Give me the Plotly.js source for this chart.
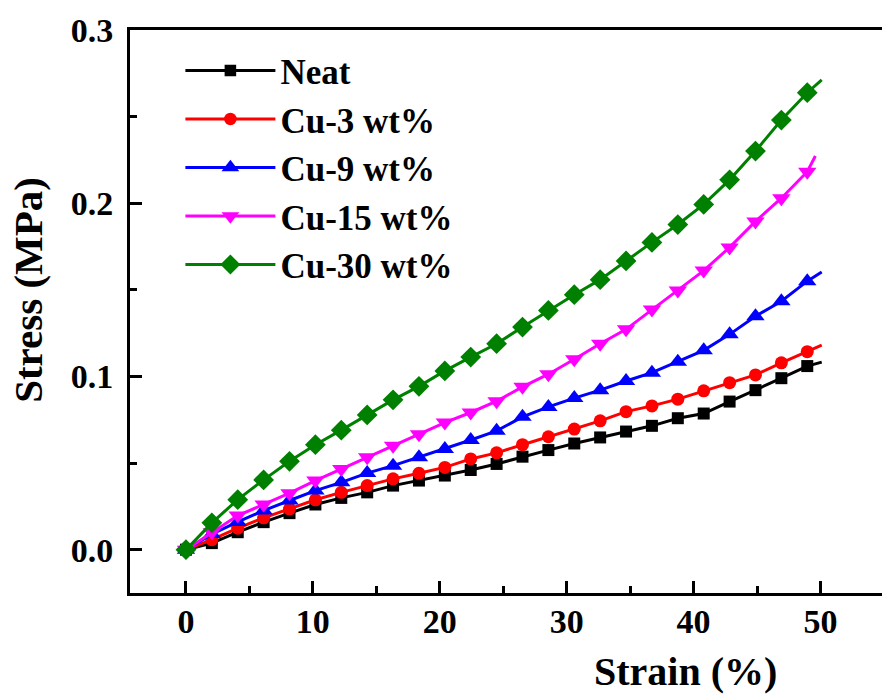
<!DOCTYPE html>
<html>
<head>
<meta charset="utf-8">
<script src="https://cdn.plot.ly/plotly-3.0.1.min.js"></script>
<style>
html,body{margin:0;padding:0;background:#fff;overflow:hidden;}
#chart{width:882px;height:695px;}
</style>
</head>
<body>
<div id="chart"></div>
<script>
// Marker strain positions (%)
const strain = [0, 2.04, 4.08, 6.12, 8.16, 10.2, 12.24, 14.28, 16.32, 18.36, 20.4, 22.44, 24.48,
  26.52, 28.56, 30.6, 32.64, 34.68, 36.72, 38.76, 40.8, 42.84, 44.88, 46.92, 48.96];

const seriesNames = ["Neat", "Cu-3 wt%", "Cu-9 wt%", "Cu-15 wt%", "Cu-30 wt%"];

// Stress (MPa) at each marker
const neat = [0, 0.0038, 0.0101, 0.0159, 0.0211, 0.0261, 0.0299, 0.0331, 0.0370, 0.0399, 0.0428, 0.0460, 0.0495,
  0.0537, 0.0575, 0.0613, 0.0648, 0.0682, 0.0715, 0.0759, 0.0786, 0.0855, 0.0921, 0.0990, 0.1060];
const cu3 = [0, 0.0058, 0.0124, 0.0184, 0.0236, 0.0288, 0.0331, 0.0370, 0.0409, 0.0441, 0.0475, 0.0524, 0.0559,
  0.0606, 0.0652, 0.0696, 0.0744, 0.0797, 0.0830, 0.0869, 0.0917, 0.0964, 0.1009, 0.1079, 0.1143];
const cu9 = [0, 0.0090, 0.0160, 0.0226, 0.0284, 0.0341, 0.0389, 0.0442, 0.0485, 0.0533, 0.0581, 0.0633, 0.0686,
  0.0767, 0.0824, 0.0875, 0.0921, 0.0974, 0.1022, 0.1085, 0.1151, 0.1243, 0.1348, 0.1434, 0.1550];
const cu15 = [0, 0.0100, 0.0197, 0.0261, 0.0326, 0.0399, 0.0466, 0.0533, 0.0600, 0.0667, 0.0734, 0.0792, 0.0857,
  0.0940, 0.1013, 0.1099, 0.1189, 0.1272, 0.1386, 0.1496, 0.1611, 0.1745, 0.1895, 0.2029, 0.2182];
const cu30 = [0, 0.0155, 0.0289, 0.0403, 0.0510, 0.0606, 0.0690, 0.0778, 0.0865, 0.0943, 0.1032, 0.1112, 0.1189,
  0.1285, 0.1381, 0.1472, 0.1559, 0.1667, 0.1774, 0.1877, 0.1993, 0.2135, 0.2301, 0.2480, 0.2638];

// End point of each curve (no marker)
const endStrain = [50.1, 50.1, 50.1, 49.6, 50.1];
const endStress = [0.1083, 0.1181, 0.1603, 0.2273, 0.2712];

const xTicks = [0, 10, 20, 30, 40, 50];
const yTicks = [0.0, 0.1, 0.2, 0.3];
const yTickText = ["0.0", "0.1", "0.2", "0.3"];
const xTitle = "Strain (%)";
const yTitle = "Stress (MPa)";

const colors = ["#000000", "#ff0000", "#0000ff", "#ff00ff", "#008000"];
const symbols = ["square", "circle", "triangle-up", "triangle-down", "diamond"];
const sizes = [12, 13, 16, 16, 16];

const values = [neat, cu3, cu9, cu15, cu30];
const FONT = "Liberation Serif, Times New Roman, serif";

const traces = values.map((v, k) => {
  const xs = strain.concat([endStrain[k]]);
  const ys = v.concat([endStress[k]]);
  const ms = strain.map(() => sizes[k]).concat([0]);
  return {
    type: "scatter",
    mode: "lines+markers",
    name: seriesNames[k],
    x: xs, y: ys,
    line: {color: colors[k], width: 3},
    marker: {color: colors[k], symbol: symbols[k], size: ms, opacity: 1, line: {width: 0}},
    legendgroup: "g" + k
  };
});

const layout = {
  width: 882, height: 695,
  margin: {l: 130, r: 0, t: 30, b: 102},
  paper_bgcolor: "#ffffff",
  plot_bgcolor: "#ffffff",
  font: {family: FONT, color: "#000", size: 32, weight: 700},
  showlegend: true,
  legend: {
    x: 0.067, y: 0.98, xanchor: "left", yanchor: "top",
    bgcolor: "rgba(0,0,0,0)",
    font: {family: FONT, size: 35, color: "#000", weight: 700},
    itemwidth: 90,
    tracegroupgap: 0
  },
  xaxis: {
    range: [-4.41, 54.85],
    tickmode: "array", tickvals: xTicks, ticktext: xTicks.map(String),
    ticks: "inside", ticklen: 12, tickwidth: 3, tickcolor: "#000",
    minor: {dtick: 5, tick0: 0, ticks: "inside", ticklen: 7, tickwidth: 3, tickcolor: "#000"},
    showline: true, linewidth: 3, linecolor: "#000", mirror: true,
    showgrid: false, zeroline: false,
    tickfont: {family: FONT, size: 34, color: "#000", weight: 700},
    ticklabelstandoff: -4
  },
  yaxis: {
    range: [-0.025, 0.3],
    tickmode: "array", tickvals: yTicks, ticktext: yTickText,
    ticks: "inside", ticklen: 12, tickwidth: 3, tickcolor: "#000",
    minor: {dtick: 0.05, tick0: 0, ticks: "inside", ticklen: 7, tickwidth: 3, tickcolor: "#000"},
    showline: true, linewidth: 3, linecolor: "#000", mirror: false,
    showgrid: false, zeroline: false,
    tickfont: {family: FONT, size: 34, color: "#000", weight: 700},
    ticklabelstandoff: 7
  },
  annotations: [
    {text: xTitle, xref: "paper", yref: "paper", x: 0.739, y: -0.139, xanchor: "center", yanchor: "middle",
     showarrow: false, font: {family: FONT, size: 40, color: "#000", weight: 700}},
    {text: yTitle, xref: "paper", yref: "paper", x: -0.136, y: 0.538, xanchor: "center", yanchor: "middle",
     textangle: -90, showarrow: false, font: {family: FONT, size: 41, color: "#000", weight: 700}}
  ]
};

Plotly.newPlot("chart", traces, layout, {displayModeBar: false, staticPlot: true});
</script>
</body>
</html>
